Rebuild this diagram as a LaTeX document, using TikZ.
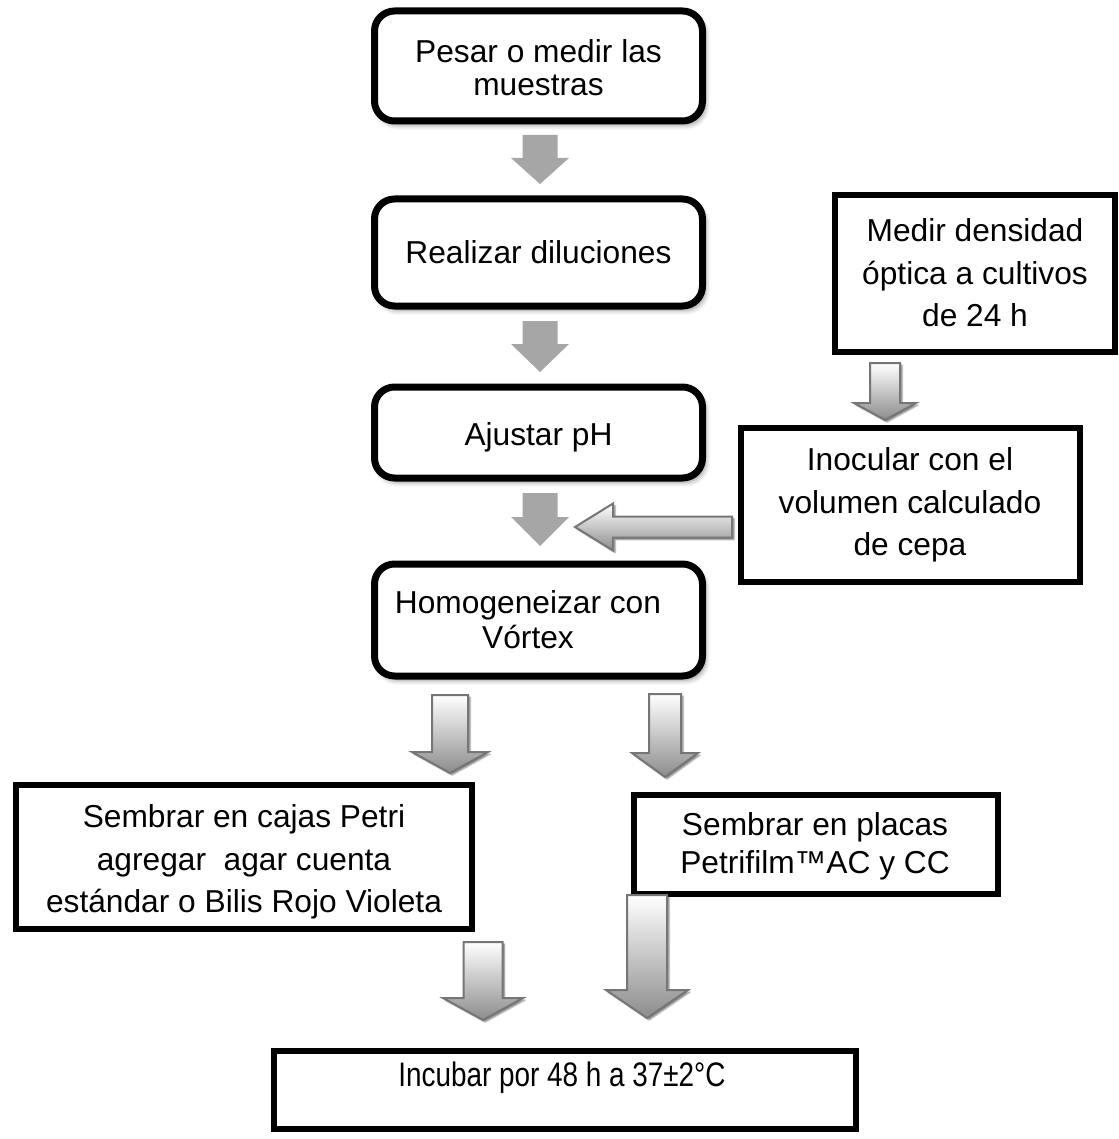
\documentclass[tikz,border=0pt]{standalone}
\usepackage{fontspec}
\setmainfont{Liberation Sans}
\usetikzlibrary{shadows.blur}
\definecolor{solidgray}{HTML}{A6A6A6}
\definecolor{edgegray}{HTML}{767676}
\definecolor{shadegray}{HTML}{8C8C8C}
\tikzset{
  roundbox/.style={draw=black, line width=7pt, rounded corners=20pt, fill=white,
    blur shadow={shadow xshift=3pt, shadow yshift=-4pt, shadow blur radius=5pt, shadow opacity=45},
    inner sep=0pt},
  sharpbox/.style={draw=black, line width=6pt, fill=white, inner sep=0pt},
  txt/.style={align=center, inner sep=0pt, font=\fontsize{31.7}{33}\selectfont},
  wide/.style={font=\fontsize{31.7}{42.5}\selectfont},
  solidarrow/.style={fill=solidgray},
  hollowarrow/.style={draw=edgegray, line width=2pt, top color=white, bottom color=shadegray,
    blur shadow={shadow xshift=2pt, shadow yshift=-2pt, shadow blur radius=1.5pt, shadow opacity=50}},
}
% style, cx, top, headstart, halfshaft, halfhead, tip
\newcommand\dnblock[7]{%
  \path[#1] (#2-#5,#3) -- (#2+#5,#3) -- (#2+#5,#4) -- (#2+#6,#4) -- (#2,#7)
    -- (#2-#6,#4) -- (#2-#5,#4) -- cycle;}
\begin{document}
\begin{tikzpicture}[x=1pt,y=-1pt]
\useasboundingbox (0,0) rectangle (1118,1139);

% main column
\node[roundbox, minimum width=328pt, minimum height=110pt] (b1) at (538.5,66) {};
\node[txt] (t1) at (538.5,68) {Pesar o medir las\\muestras};
\node[roundbox, minimum width=328pt, minimum height=107pt] (b2) at (538.5,252.5) {};
\node[txt] (t2) at (538.5,252) {Realizar diluciones};
\node[roundbox, minimum width=328pt, minimum height=91pt] (b3) at (538.5,432.5) {};
\node[txt] (t3) at (538.5,437) {Ajustar pH};
\node[roundbox, minimum width=328pt, minimum height=112pt] (b4) at (538.5,620) {};
\node[txt, font=\fontsize{31.7}{35}\selectfont] (t4) at (528,620) {Homogeneizar con\\Vórtex};

% right column
\node[sharpbox, minimum width=280pt, minimum height=157pt] (ba) at (975,273.5) {};
\node[txt, wide] (ta) at (975,273) {Medir densidad\\óptica a cultivos\\de 24 h};
\node[sharpbox, minimum width=339pt, minimum height=154pt] (bb) at (910.5,505) {};
\node[txt, wide] (tb) at (910,505) {Inocular con el\\volumen calculado\\de cepa};

% lower boxes
\node[sharpbox, minimum width=456pt, minimum height=144pt] (bc) at (244,857) {};
\node[txt, wide] (tc) at (244,862) {Sembrar en cajas Petri\\agregar\ \ agar cuenta\\estándar o Bilis Rojo Violeta};
\node[sharpbox, minimum width=364pt, minimum height=99pt] (bd) at (816,844.5) {};
\node[txt, font=\fontsize{31.7}{38}\selectfont] (td) at (815,846) {Sembrar en placas\\Petrifilm™AC y CC};
\node[sharpbox, minimum width=582pt, minimum height=78pt] (be) at (565,1090) {};
\node[txt, font=\fontsize{34}{36}\selectfont] (te) at (562,1078) {\scalebox{0.82}[1]{Incubar por 48 h a 37±2°C}};

% solid arrows
\dnblock{solidarrow}{540}{135}{158}{17.5}{29}{184}
\dnblock{solidarrow}{540}{321}{344}{17.5}{29}{372}
\dnblock{solidarrow}{540}{493}{517}{17.5}{29}{546}

% hollow arrows
\dnblock{hollowarrow}{885}{363}{403}{15}{31}{420}
\path[hollowarrow] (732,516.5) -- (613,516.5) -- (613,503.5) -- (575,527)
  -- (613,550.5) -- (613,537.5) -- (732,537.5) -- cycle;
\dnblock{hollowarrow}{450}{695}{752}{18}{38}{773}
\dnblock{hollowarrow}{665}{694}{753}{16}{33}{777}
\dnblock{hollowarrow}{483}{942}{998}{19.5}{40}{1020}
\dnblock{hollowarrow}{647}{895}{990}{20}{41}{1018}
\end{tikzpicture}
\end{document}
